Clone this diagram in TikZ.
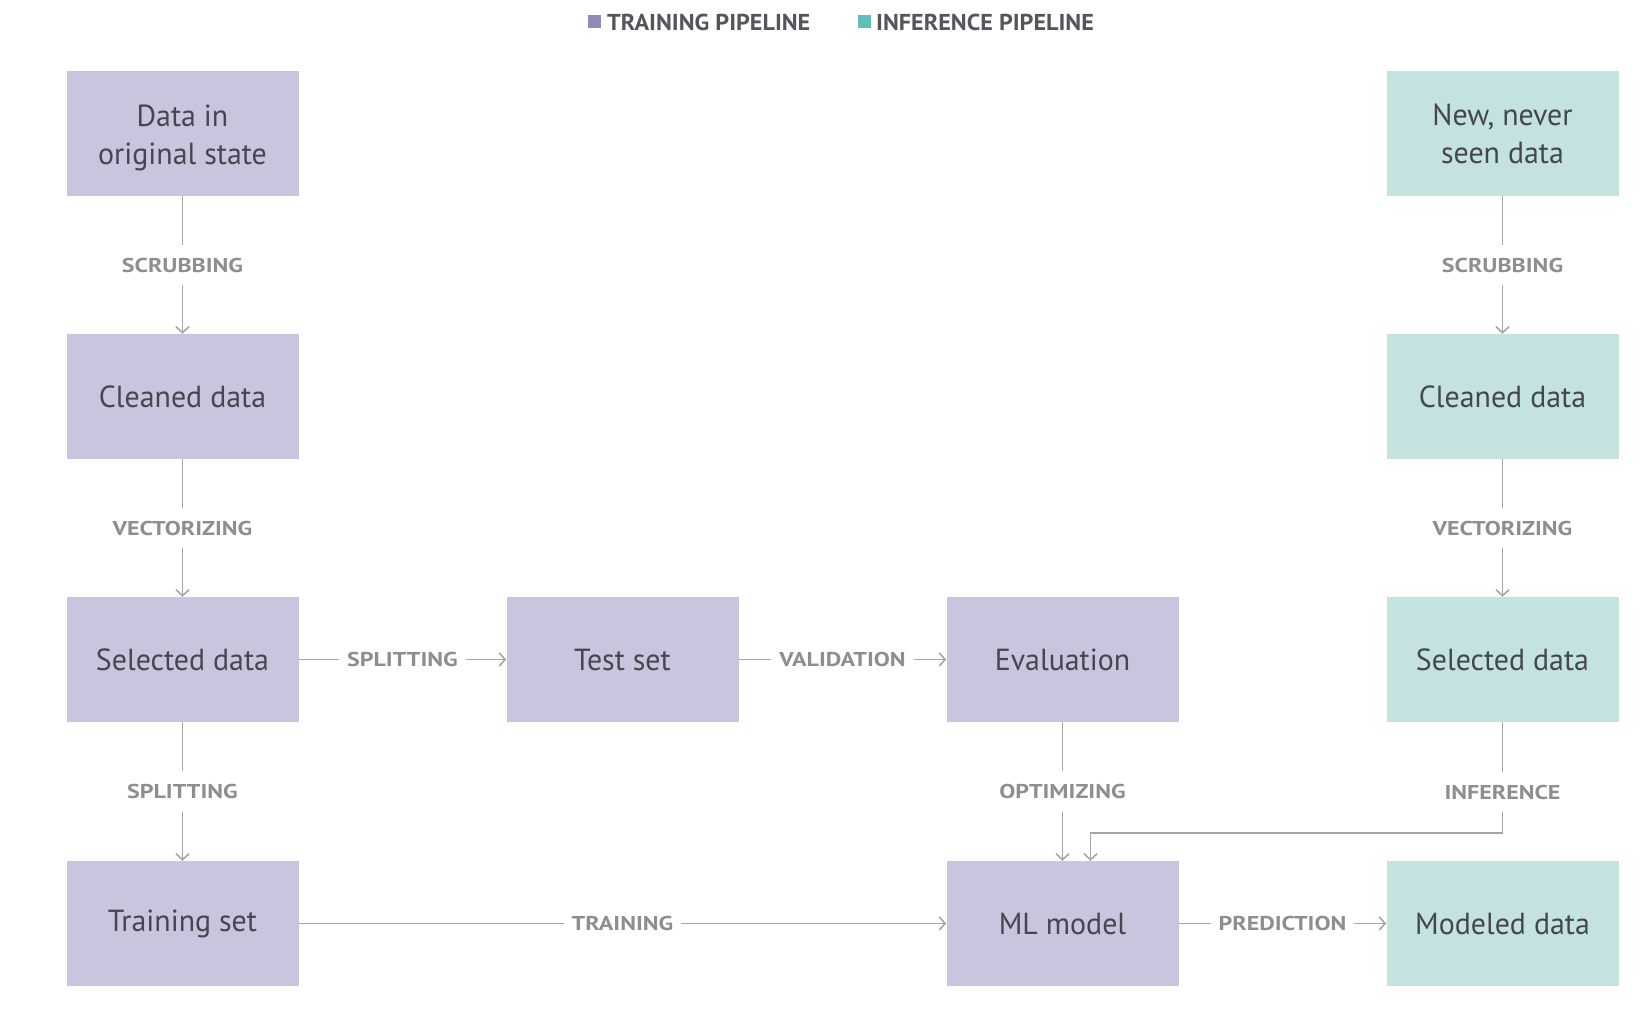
\documentclass[tikz,border=0pt]{standalone}
\usepackage{fontspec}
\setmainfont{PT Sans}
\newfontfamily\boxfont[FakeStretch=0.98]{PT Sans}
\newfontfamily\labfont[FakeStretch=1.2]{PT Sans Bold}
\newfontfamily\legfont[FakeStretch=1.05]{PT Sans Bold}
\usetikzlibrary{arrows.meta}
\definecolor{trainbox}{HTML}{C8C6DF}
\definecolor{infbox}{HTML}{C4E3E0}
\definecolor{trainsq}{HTML}{8F8BBB}
\definecolor{infsq}{HTML}{5EC0B6}
\definecolor{txt}{HTML}{46464E}
\definecolor{legtxt}{HTML}{55555B}
\definecolor{labgray}{HTML}{8E8E8E}
\definecolor{linegray}{HTML}{A6A6A6}
\newcommand{\toplift}{\rule{0pt}{30pt}}
\begin{document}
\begin{tikzpicture}[x=1pt,y=-1pt,
  box/.style={minimum width=232pt,minimum height=125pt,inner sep=0pt,text=txt,
    font=\boxfont\fontsize{30.5}{38}\selectfont,align=center},
  tbox/.style={box,fill=trainbox},
  ibox/.style={box,fill=infbox},
  conn/.style={draw=linegray,line width=1.8pt,
    -{Straight Barb[length=6pt,width=13pt,line width=1.6pt]}},
  lab/.style={fill=white,text=labgray,font=\labfont\fontsize{20}{22}\selectfont,inner sep=0pt},
  vlab/.style={lab,inner xsep=4pt,inner ysep=13pt},
  hlab/.style={lab,inner xsep=8pt,inner ysep=4pt},
  legsq/.style={minimum size=13pt,inner sep=0pt},
  legtext/.style={text=legtxt,font=\legfont\fontsize{23}{25}\selectfont,inner sep=0pt,anchor=west}]
\useasboundingbox (0,0) rectangle (1639,1015);
% legend
\node[legsq,fill=trainsq] (lsq1) at (594.5,21.5) {};
\node[legtext] (lt1) at (607,22) {TRAINING PIPELINE};
\node[legsq,fill=infsq] (lsq2) at (864,21.5) {};
\node[legtext] (lt2) at (876,22) {INFERENCE PIPELINE};
% training column
\node[tbox] (d1) at (182.5,133.5) {\toplift Data in\\original state};
\node[tbox] (c1) at (182.5,396.5) {Cleaned data};
\node[tbox] (s1) at (182.5,659.5) {Selected data};
\node[tbox] (tr) at (182.5,923.5) {Training set};
\node[tbox] (ts) at (622.5,659.5) {Test set};
\node[tbox] (ev) at (1062.5,659.5) {Evaluation};
\node[tbox] (ml) at (1062.5,923.5) {ML model};
% inference column
\node[ibox] (d2) at (1502.5,133.5) {New, never\\seen data};
\node[ibox] (c2) at (1502.5,396.5) {Cleaned data};
\node[ibox] (s2) at (1502.5,659.5) {Selected data};
\node[ibox] (md) at (1502.5,923.5) {Modeled data};
% connectors
\draw[conn] (d1) -- node[vlab]{SCRUBBING} (c1);
\draw[conn] (c1) -- node[vlab]{VECTORIZING} (s1);
\draw[conn] (s1) -- node[vlab]{SPLITTING} (tr);
\draw[conn] (s1) -- node[hlab]{SPLITTING} (ts);
\draw[conn] (ts) -- node[hlab]{VALIDATION} (ev);
\draw[conn] (tr) -- node[hlab]{TRAINING} (ml);
\draw[conn] (ml) -- node[hlab]{PREDICTION} (md);
\draw[conn] (ev) -- node[vlab]{OPTIMIZING} (ml);
\draw[conn] (d2) -- node[vlab]{SCRUBBING} (c2);
\draw[conn] (c2) -- node[vlab]{VECTORIZING} (s2);
\coordinate (turn) at (1502.5,833);
\draw[conn] (s2.south) -- node[vlab,pos=0.63]{INFERENCE} (turn) -| ([xshift=28pt]ml.north);
\end{tikzpicture}
\end{document}
